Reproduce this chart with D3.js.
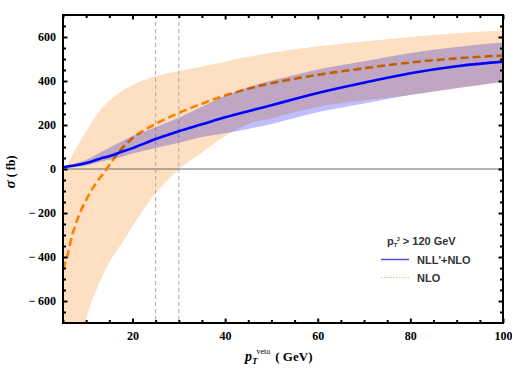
<!DOCTYPE html>
<html>
<head>
<meta charset="utf-8">
<script src="https://cdn.jsdelivr.net/npm/d3@7"></script>
<style>
  html, body { margin: 0; padding: 0; background: #fff; }
  svg { display: block; }
</style>
</head>
<body>
<svg id="chart" width="512" height="384"></svg>
<script>
// ---- data ----
const xNLL   = [5, 8, 10, 13, 15, 17.5, 20, 25, 30, 35, 40, 45, 50, 55, 60, 70, 80, 90, 100];
const nllMid = [8, 18, 27, 47, 58, 77, 95, 136, 172, 203, 235, 263, 290, 318, 345, 392, 435, 467, 488];
const nllHi  = [12, 28, 42, 75, 97, 124, 150, 190, 233, 283, 333, 372, 402, 427, 452, 490, 527, 555, 575];
const nllLo  = [4, 10, 16, 32, 42, 55, 70, 96, 119, 145, 162, 182, 205, 232, 258, 298, 336, 368, 397];

const xNLO   = [5, 6, 7, 8, 10, 12, 14, 16, 18, 20, 25, 30, 35, 40, 45, 50, 55, 60, 70, 80, 90, 100];
const nloMid = [-455, -390, -300, -235, -140, -68, -12, 48, 100, 140, 205, 255, 297, 335, 365, 390, 410, 428, 458, 484, 503, 516];
const nloHi  = [-30, 15, 62, 100, 170, 238, 290, 328, 358, 382, 422, 446, 466, 488, 510, 528, 544, 558, 580, 600, 617, 630];
const nloLo  = [-1500, -1250, -1050, -900, -683, -560, -465, -390, -330, -260, -110, -2, 75, 150, 205, 230, 258, 282, 312, 336, 366, 395];

const xMajor = [20, 40, 60, 80, 100];
const xMinor = [5, 10, 15, 25, 30, 35, 45, 50, 55, 65, 70, 75, 85, 90, 95];
const yMajor = [-600, -400, -200, 0, 200, 400, 600];
const yMinor = d3.range(-650, 700, 50).filter(v => v % 200 !== 0);
const vetoLines = [25, 30];

// ---- layout ----
const svg = d3.select("#chart");
const L = 63, R = 503, T = 15, B = 323;
const x = d3.scaleLinear().domain([5, 100]).range([L, R]);
const y = d3.scaleLinear().domain([-700, 700]).range([B, T]);

svg.append("rect").attr("width", 512).attr("height", 384).attr("fill", "#fff");

svg.append("defs").append("clipPath").attr("id", "clip")
  .append("rect").attr("x", L).attr("y", T).attr("width", R - L).attr("height", B - T);

const plot = svg.append("g").attr("clip-path", "url(#clip)");

const nlo = xNLO.map((d, i) => ({x: d, m: nloMid[i], hi: nloHi[i], lo: nloLo[i]}));
const nll = xNLL.map((d, i) => ({x: d, m: nllMid[i], hi: nllHi[i], lo: nllLo[i]}));

const band = d3.area().curve(d3.curveBasis)
  .x(d => x(d.x)).y0(d => y(d.lo)).y1(d => y(d.hi));
const line = d3.line().curve(d3.curveMonotoneX)
  .x(d => x(d.x)).y(d => y(d.m));
const bandM = d3.area().curve(d3.curveMonotoneX)
  .x(d => x(d.x)).y0(d => y(d.lo)).y1(d => y(d.hi));

// NLO band
plot.append("path").datum(nlo).attr("d", bandM).attr("fill", "rgb(254,223,194)");

// zero line
plot.append("line").attr("x1", L).attr("x2", R).attr("y1", y(0)).attr("y2", y(0))
  .attr("stroke", "#6a6a6a").attr("stroke-width", 1);

// veto dashed lines
plot.selectAll(".veto").data(vetoLines).enter().append("line")
  .attr("x1", d => x(d)).attr("x2", d => x(d)).attr("y1", T).attr("y2", B)
  .attr("stroke", "#aaa").attr("stroke-width", 1).attr("stroke-dasharray", "4,3");

// NLO central dashed
plot.append("path").datum(nlo).attr("d", line).attr("fill", "none")
  .attr("stroke", "#ff8000").attr("stroke-width", 2.6).attr("stroke-dasharray", "8,4");

// NLL band (multiply blend)
plot.append("path").datum(nll).attr("d", bandM).attr("fill", "rgb(192,190,255)")
  .style("mix-blend-mode", "multiply");

// NLL central
plot.append("path").datum(nll).attr("d", line).attr("fill", "none")
  .attr("stroke", "#0000ff").attr("stroke-width", 2.6);

// ---- axes ----
const tickFont = "bold 12px 'Liberation Serif', 'DejaVu Serif', serif";
function styleAxis(g) {
  g.select(".domain").remove();
  g.selectAll(".tick line").attr("stroke", "#000").attr("stroke-width", 2);
  g.selectAll(".tick text").style("font", tickFont).attr("fill", "#000");
}
const fmtY = v => v < 0 ? "\u2212\u2009" + Math.abs(v) : String(v);

svg.append("g").attr("transform", `translate(0,${B})`)
  .call(d3.axisBottom(x).tickValues(xMajor).tickSize(-4.5).tickPadding(8).tickFormat(d3.format("d")))
  .call(styleAxis);
svg.append("g").attr("transform", `translate(0,${B})`)
  .call(d3.axisBottom(x).tickValues(xMinor).tickSize(-3).tickFormat(""))
  .call(styleAxis);
svg.append("g").attr("transform", `translate(0,${T})`)
  .call(d3.axisTop(x).tickValues(xMajor).tickSize(-4.5).tickFormat(""))
  .call(styleAxis);
svg.append("g").attr("transform", `translate(0,${T})`)
  .call(d3.axisTop(x).tickValues(xMinor).tickSize(-3).tickFormat(""))
  .call(styleAxis);

svg.append("g").attr("transform", `translate(${L},0)`)
  .call(d3.axisLeft(y).tickValues(yMajor).tickSize(-4.5).tickPadding(7).tickFormat(fmtY))
  .call(styleAxis);
svg.append("g").attr("transform", `translate(${L},0)`)
  .call(d3.axisLeft(y).tickValues(yMinor).tickSize(-3).tickFormat(""))
  .call(styleAxis);
svg.append("g").attr("transform", `translate(${R},0)`)
  .call(d3.axisRight(y).tickValues(yMajor).tickSize(-4.5).tickFormat(""))
  .call(styleAxis);
svg.append("g").attr("transform", `translate(${R},0)`)
  .call(d3.axisRight(y).tickValues(yMinor).tickSize(-3).tickFormat(""))
  .call(styleAxis);

// frame
svg.append("rect").attr("x", L).attr("y", T).attr("width", R - L).attr("height", B - T)
  .attr("fill", "none").attr("stroke", "#000").attr("stroke-width", 2);

// ---- axis titles ----
const serif = "'Liberation Serif', 'DejaVu Serif', serif";
const xt = svg.append("text").attr("x", 245).attr("y", 361)
  .style("font-family", serif).style("font-weight", "bold").attr("fill", "#000");
xt.append("tspan").text("p").style("font-style", "italic").style("font-size", "14px");
xt.append("tspan").text("T").style("font-style", "italic").style("font-size", "9px").attr("dy", 3);
xt.append("tspan").text("veto").style("font-size", "8px").style("font-weight", "normal").attr("dy", -10).attr("dx", -1);
xt.append("tspan").text("( GeV)").style("font-size", "13px").attr("dy", 7).attr("dx", 5);

const yt = svg.append("text").attr("transform", "translate(15,172) rotate(-90)")
  .attr("text-anchor", "middle")
  .style("font-family", serif).style("font-weight", "bold").attr("fill", "#000");
yt.append("tspan").text("\u03c3").style("font-style", "italic").style("font-size", "15px");
yt.append("tspan").text(" ( fb)").style("font-size", "12px");

// ---- legend ----
const sans = "'Liberation Sans', Arial, sans-serif";
const lg = svg.append("g").style("font-family", sans).style("font-weight", "bold").attr("fill", "#333");
const lt = lg.append("text").attr("x", 387).attr("y", 245).style("font-size", "11px");
lt.append("tspan").text("p");
lt.append("tspan").text("T").style("font-size", "6px").attr("dy", 2);
lt.append("tspan").text("J").style("font-size", "6px").attr("dy", -6).attr("dx", -1);
lt.append("tspan").text(" > 120 GeV").attr("dy", 4);

lg.append("line").attr("x1", 381).attr("x2", 409).attr("y1", 259.5).attr("y2", 259.5)
  .attr("stroke", "#5050e0").attr("stroke-width", 1.5);
lg.append("text").attr("x", 417).attr("y", 264).style("font-size", "11px").text("NLL'+NLO");
lg.append("line").attr("x1", 381).attr("x2", 409).attr("y1", 277.5).attr("y2", 277.5)
  .attr("stroke", "#ffb48a").attr("stroke-width", 1.2).attr("stroke-dasharray", "1.5,1.5");
lg.append("text").attr("x", 417).attr("y", 282).style("font-size", "11px").text("NLO");
</script>
</body>
</html>
